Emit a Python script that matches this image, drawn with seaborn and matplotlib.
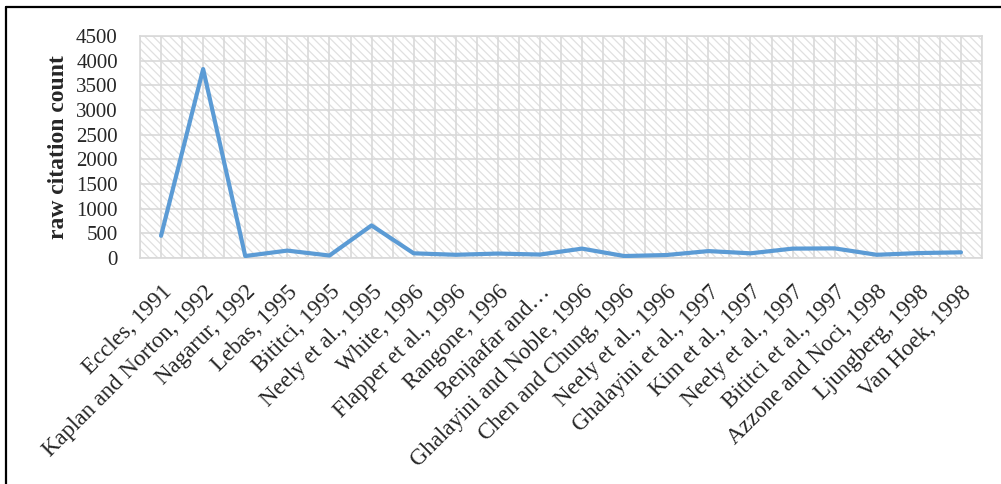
import pandas as pd
import matplotlib
matplotlib.use("Agg")
import matplotlib.pyplot as plt
import seaborn as sns
from matplotlib.patches import Rectangle
from matplotlib.lines import Line2D

# -----------------------------
# data
# -----------------------------
studies = [
    "Eccles, 1991", "Kaplan and Norton, 1992", "Nagarur, 1992", "Lebas, 1995",
    "Bititci, 1995", "Neely et al., 1995", "White, 1996", "Flapper et al., 1996",
    "Rangone, 1996", "Benjaafar and\u2026", "Ghalayini and Noble, 1996",
    "Chen and Chung, 1996", "Neely et al., 1996", "Ghalayini et al., 1997",
    "Kim et al., 1997", "Neely et al., 1997", "Bititci et al., 1997",
    "Azzone and Noci, 1998", "Ljungberg, 1998", "Van Hoek, 1998",
]
citations = [450, 3830, 40, 150, 50, 660, 95, 65, 90, 70,
             190, 40, 60, 140, 95, 190, 195, 65, 100, 115]
y_ticks = [0, 500, 1000, 1500, 2000, 2500, 3000, 3500, 4000, 4500]

df = pd.DataFrame({"pos": range(len(studies)), "study": studies,
                   "citations": citations})

sns.set_style("white")
plt.rcParams["font.family"] = ["Liberation Serif", "DejaVu Serif"]
plt.rcParams["hatch.linewidth"] = 0.9

fig = plt.figure(figsize=(10.01, 4.84), dpi=100)
ax = fig.add_axes([140 / 1001, (484 - 258) / 484, 842 / 1001, 222 / 484])

# hatched plot area background
ax.add_patch(Rectangle((0, 0), 1, 1, transform=ax.transAxes, facecolor="white",
                       edgecolor="#E0E0E0", hatch="\\\\\\\\", linewidth=0,
                       zorder=0))

sns.lineplot(data=df, x="pos", y="citations", ax=ax, color="#5B9BD5",
             linewidth=3.0, zorder=3)
for ln in ax.get_lines():
    ln.set_solid_joinstyle("round")
    ln.set_solid_capstyle("round")

ax.set_xlim(-0.5, len(studies) - 0.5)
ax.set_ylim(0, 4500)
ax.set_yticks(y_ticks)
ax.set_yticklabels([str(v) for v in y_ticks], fontsize=15)
ax.set_xticks(range(len(studies)))
ax.set_xticklabels(studies, fontsize=16.5, rotation=45, ha="right",
                   rotation_mode="anchor")
ax.tick_params(axis="x", length=0, pad=17)
ax.tick_params(axis="y", length=0, pad=16)

# gridlines: horizontal every 500, vertical every half category
ax.set_xticks([i - 0.5 for i in range(len(studies) + 1)], minor=True)
ax.grid(True, which="major", axis="y", color="#D9D9D9", linewidth=1.2, zorder=1)
ax.grid(True, which="both", axis="x", color="#D9D9D9", linewidth=1.2, zorder=1)
ax.tick_params(axis="x", which="minor", length=0)
ax.set_axisbelow(True)

for side in ["top", "right", "left", "bottom"]:
    ax.spines[side].set_visible(True)
    ax.spines[side].set_color("#D9D9D9")
    ax.spines[side].set_linewidth(1.2)

ax.set_xlabel("")
ax.set_ylabel("raw citation count", fontsize=17, fontweight="bold", labelpad=5)

# outer frame (top and left edges)
fig.add_artist(Line2D([6 / 1001, 1], [1 - 7 / 484, 1 - 7 / 484],
                      transform=fig.transFigure, color="black", linewidth=1.6))
fig.add_artist(Line2D([6 / 1001, 6 / 1001], [0, 1 - 7 / 484],
                      transform=fig.transFigure, color="black", linewidth=1.6))

fig.savefig("out.png", dpi=100)
